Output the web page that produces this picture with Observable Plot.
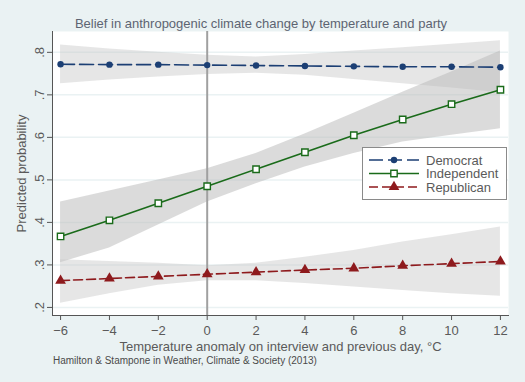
<!DOCTYPE html>
<html>
<head>
<meta charset="utf-8">
<script src="https://cdn.jsdelivr.net/npm/d3@7"></script>
<script src="https://cdn.jsdelivr.net/npm/@observablehq/plot@0.6"></script>
<style>
  html, body { margin: 0; padding: 0; background: #EAF2F3; }
  #wrap { position: relative; width: 525px; height: 382px; font-family: "Liberation Sans", Arial, sans-serif; }
  #title { position: absolute; left: 0; width: 522px; top: 16px; text-align: center; font-size: 13px; color: #5d6472; }
  #caption { position: absolute; left: 53px; top: 355px; font-size: 10px; color: #4a4a4a; }
  #legend { position: absolute; left: 362px; top: 147px; width: 143px; height: 51px; background: white; border: 1px solid #8a8a8a; }
  #legend svg { display: block; }
</style>
</head>
<body>
<div id="wrap">
  <div id="chart"></div>
  <div id="title">Belief in anthropogenic climate change by temperature and party</div>
  <div id="caption">Hamilton &amp; Stampone in Weather, Climate &amp; Society (2013)</div>
  <div id="legend"></div>
</div>
<script>
const temps = [-6, -4, -2, 0, 2, 4, 6, 8, 10, 12];
const xTicks = [-6, -4, -2, 0, 2, 4, 6, 8, 10, 12];
const yTicks = [0.2, 0.3, 0.4, 0.5, 0.6, 0.7, 0.8];

const demMean = [0.772, 0.771, 0.771, 0.770, 0.769, 0.768, 0.767, 0.766, 0.766, 0.765];
const demLo   = [0.726, 0.735, 0.742, 0.748, 0.751, 0.746, 0.736, 0.726, 0.716, 0.705];
const demHi   = [0.817, 0.808, 0.800, 0.793, 0.789, 0.795, 0.803, 0.811, 0.819, 0.827];

const indMean = [0.367, 0.405, 0.445, 0.485, 0.525, 0.565, 0.605, 0.642, 0.678, 0.712];
const indLo   = [0.305, 0.340, 0.394, 0.448, 0.491, 0.530, 0.562, 0.589, 0.605, 0.620];
const indHi   = [0.448, 0.474, 0.500, 0.526, 0.562, 0.608, 0.657, 0.706, 0.754, 0.803];

const repMean = [0.263, 0.268, 0.273, 0.278, 0.283, 0.288, 0.292, 0.298, 0.303, 0.308];
const repLo   = [0.210, 0.232, 0.252, 0.263, 0.263, 0.256, 0.248, 0.240, 0.232, 0.226];
const repHi   = [0.312, 0.308, 0.304, 0.298, 0.304, 0.318, 0.334, 0.354, 0.371, 0.389];

const parties = ["Democrat", "Independent", "Republican"];
const colors = ["#1c3f74", "#1a6b1a", "#8e1a1d"];
const series = [
  {name: parties[0], mean: demMean, lo: demLo, hi: demHi},
  {name: parties[1], mean: indMean, lo: indLo, hi: indHi},
  {name: parties[2], mean: repMean, lo: repLo, hi: repHi}
];
const rows = series.flatMap(s => temps.map((t, i) => ({party: s.name, t, mean: s.mean[i], lo: s.lo[i], hi: s.hi[i]})));
const byParty = p => rows.filter(r => r.party === p);

const fmt = d => d.toFixed(1).replace(/^0/, "");
const txt = "#5a5a5a";

const chart = Plot.plot({
  width: 525,
  height: 382,
  marginLeft: 52,
  marginRight: 17,
  marginTop: 31,
  marginBottom: 67,
  style: {background: "transparent", fontFamily: "Liberation Sans, Arial, sans-serif", fontSize: "13px", color: txt},
  x: {domain: [-6.33, 12.33]},
  y: {domain: [0.181, 0.849]},
  marks: [
    Plot.frame({fill: "white", stroke: null}),
    Plot.gridY(yTicks, {stroke: "#EAF2F3", strokeOpacity: 1, strokeWidth: 1.5}),
    Plot.areaY(byParty("Democrat"), {x: "t", y1: "lo", y2: "hi", fill: "#c8c8c8", fillOpacity: 0.45}),
    Plot.areaY(byParty("Independent"), {x: "t", y1: "lo", y2: "hi", fill: "#b8b8b8", fillOpacity: 0.5}),
    Plot.areaY(byParty("Republican"), {x: "t", y1: "lo", y2: "hi", fill: "#c8c8c8", fillOpacity: 0.45}),
    Plot.ruleX([0], {stroke: "#a0a0a0", strokeWidth: 2}),
    Plot.lineY(byParty("Democrat"), {x: "t", y: "mean", stroke: colors[0], strokeWidth: 1.6, strokeDasharray: "14,5"}),
    Plot.lineY(byParty("Independent"), {x: "t", y: "mean", stroke: colors[1], strokeWidth: 1.6}),
    Plot.lineY(byParty("Republican"), {x: "t", y: "mean", stroke: colors[2], strokeWidth: 1.6, strokeDasharray: "9,4"}),
    Plot.dot(byParty("Democrat"), {x: "t", y: "mean", symbol: "circle", r: 3.2, fill: colors[0]}),
    Plot.dot(byParty("Independent"), {x: "t", y: "mean", symbol: "square", r: 3.6, fill: "white", stroke: colors[1], strokeWidth: 1.4}),
    Plot.dot(byParty("Republican"), {x: "t", y: "mean", symbol: "triangle", r: 4, fill: colors[2]}),
    Plot.axisX(xTicks, {tickSize: 5, tickPadding: 5, stroke: "#555", color: txt, fontSize: 13,
      label: "Temperature anomaly on interview and previous day, °C", labelAnchor: "center", labelArrow: "none", labelOffset: 35}),
    Plot.axisY(yTicks, {tickSize: 5, tickPadding: 4, tickRotate: -90, tickFormat: fmt, stroke: "#555", color: txt, fontSize: 13,
      label: "Predicted probability", labelAnchor: "center", labelArrow: "none", labelOffset: 36}),
    Plot.frame({anchor: "left", stroke: "#555"}),
    Plot.frame({anchor: "bottom", stroke: "#555"})
  ]
});
document.getElementById("chart").appendChild(chart);

// legend
const lg = d3.select("#legend").append("svg").attr("width", 143).attr("height", 51);
const dashes = ["14,5", null, "9,4"];
const sym = [d3.symbolCircle, d3.symbolSquare, d3.symbolTriangle];
parties.forEach((p, i) => {
  const y = 12 + i * 13.5;
  lg.append("line").attr("x1", 6).attr("x2", 56).attr("y1", y).attr("y2", y)
    .attr("stroke", colors[i]).attr("stroke-width", 1.6).attr("stroke-dasharray", dashes[i]);
  const size = i === 0 ? Math.PI * 3.2 * 3.2 : i === 1 ? Math.PI * 3.6 * 3.6 : Math.PI * 16;
  lg.append("path").attr("d", d3.symbol(sym[i], size)()).attr("transform", `translate(31,${y})`)
    .attr("fill", i === 1 ? "white" : colors[i]).attr("stroke", i === 1 ? colors[1] : "none").attr("stroke-width", 1.4);
  lg.append("text").attr("x", 63).attr("y", y).attr("dy", "0.35em")
    .attr("font-family", "Liberation Sans, Arial, sans-serif").attr("font-size", 13).attr("fill", txt).text(p);
});
</script>
</body>
</html>
